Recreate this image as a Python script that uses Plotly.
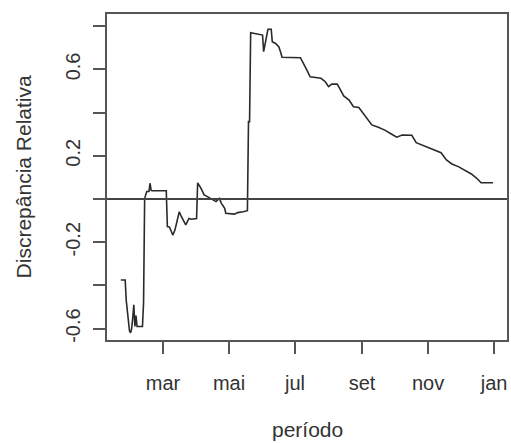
import plotly.graph_objects as go

# Data (dates in 2020, relative discrepancy)
datas = [
    "2020-01-22", "2020-01-26", "2020-01-27", "2020-01-28", "2020-01-29", "2020-01-30",
    "2020-01-31", "2020-02-01", "2020-02-02", "2020-02-03", "2020-02-04", "2020-02-05",
    "2020-02-06", "2020-02-11", "2020-02-12", "2020-02-13", "2020-02-14", "2020-02-15",
    "2020-02-17", "2020-02-18", "2020-02-19", "2020-02-20", "2020-03-04", "2020-03-05",
    "2020-03-07", "2020-03-10", "2020-03-12", "2020-03-14", "2020-03-16", "2020-03-18",
    "2020-03-20", "2020-03-22", "2020-03-25", "2020-03-27", "2020-04-01", "2020-04-02",
    "2020-04-05", "2020-04-08", "2020-04-11", "2020-04-16", "2020-04-19", "2020-04-22",
    "2020-04-24", "2020-04-27", "2020-04-28", "2020-05-06", "2020-05-09", "2020-05-14",
    "2020-05-18", "2020-05-19", "2020-05-20", "2020-05-21", "2020-05-26", "2020-06-01",
    "2020-06-02", "2020-06-04", "2020-06-06", "2020-06-09", "2020-06-10", "2020-06-13",
    "2020-06-16", "2020-06-18", "2020-06-19", "2020-07-06", "2020-07-09", "2020-07-12",
    "2020-07-15", "2020-07-25", "2020-07-29", "2020-08-01", "2020-08-04", "2020-08-09",
    "2020-08-12", "2020-08-15", "2020-08-20", "2020-08-24", "2020-08-29", "2020-09-01",
    "2020-09-05", "2020-09-10", "2020-09-16", "2020-09-22", "2020-09-28", "2020-10-03",
    "2020-10-08", "2020-10-17", "2020-10-21", "2020-10-29", "2020-11-04", "2020-11-13",
    "2020-11-18", "2020-11-23", "2020-11-29", "2020-12-05", "2020-12-11", "2020-12-16",
    "2020-12-20", "2020-12-31",
]
discrepancia = [
    -0.375, -0.375, -0.47, -0.53, -0.58, -0.61,
    -0.62, -0.60, -0.55, -0.49, -0.59, -0.54,
    -0.59, -0.59, -0.48, 0.00, 0.02, 0.035,
    0.035, 0.073, 0.04, 0.038, 0.038, -0.128,
    -0.13, -0.167, -0.144, -0.097, -0.059, -0.082,
    -0.105, -0.12, -0.09, -0.094, -0.09, 0.075,
    0.05, 0.019, 0.011, -0.002, -0.012, 0.003,
    -0.02, -0.043, -0.066, -0.07, -0.063, -0.059,
    -0.054, 0.358, 0.358, 0.77, 0.764, 0.759,
    0.682, 0.744, 0.786, 0.786, 0.728, 0.72,
    0.705, 0.675, 0.656, 0.654, 0.628, 0.597,
    0.566, 0.559, 0.543, 0.52, 0.532, 0.532,
    0.505, 0.477, 0.458, 0.427, 0.424, 0.404,
    0.381, 0.343, 0.332, 0.319, 0.301, 0.286,
    0.296, 0.295, 0.261, 0.245, 0.23, 0.214,
    0.181, 0.162, 0.15, 0.134, 0.116, 0.096,
    0.075, 0.075,
]

x_tick_vals = ["2020-03-01", "2020-05-01", "2020-07-01", "2020-09-01", "2020-11-01", "2021-01-01"]
x_tick_text = ["mar", "mai", "jul", "set", "nov", "jan"]
y_tick_vals = [-0.6, -0.4, -0.2, 0.0, 0.2, 0.4, 0.6, 0.8]
y_tick_text = ["-0.6", "", "-0.2", "", "0.2", "", "0.6", ""]

FONT = "Liberation Sans, Arial, sans-serif"
INK = "#333333"
TICK_SIZE = 20
TITLE_SIZE = 21

fig = go.Figure()
fig.add_trace(go.Scatter(
    x=datas, y=discrepancia, mode="lines",
    line=dict(color="#2a2a2a", width=1.6),
    showlegend=False, hoverinfo="skip",
))

fig.add_hline(y=0, line=dict(color="#444444", width=2))

fig.update_layout(
    width=511, height=443,
    margin=dict(l=107, r=2, t=14, b=103),
    paper_bgcolor="white", plot_bgcolor="white",
    font=dict(family=FONT, size=TICK_SIZE, color=INK),
    xaxis=dict(
        type="date",
        range=["2020-01-09 05:00", "2021-01-12 23:00"],
        tickmode="array", tickvals=x_tick_vals, ticktext=x_tick_text,
        ticks="outside", ticklen=12, tickwidth=1.5, tickcolor="#555555",
        showline=True, linecolor="#555555", linewidth=2, mirror=True,
        showgrid=False, zeroline=False,
        ticklabelstandoff=12,
        tickfont=dict(family=FONT, size=TICK_SIZE, color=INK),
    ),
    yaxis=dict(
        range=[-0.6528, 0.8565],
        tickmode="array", tickvals=y_tick_vals, ticktext=y_tick_text,
        ticks="outside", ticklen=12, tickwidth=1.5, tickcolor="#555555",
        showline=True, linecolor="#555555", linewidth=2, mirror=True,
        showgrid=False, zeroline=False,
        tickangle=-90,
        ticklabelstandoff=5,
        tickfont=dict(family=FONT, size=TICK_SIZE, color=INK),
    ),
    annotations=[
        dict(text="período", xref="paper", yref="paper", x=0.5, y=-0.276,
             xanchor="center", yanchor="middle", showarrow=False,
             font=dict(family=FONT, size=TITLE_SIZE, color=INK)),
        dict(text="Discrepância Relativa", xref="paper", yref="paper", x=-0.209, y=0.5,
             xanchor="center", yanchor="middle", showarrow=False, textangle=-90,
             font=dict(family=FONT, size=TITLE_SIZE, color=INK)),
    ],
)

fig.write_html(
    "out.html",
    config={"displayModeBar": False},
    post_script="document.body.style.margin='0';document.body.style.overflow='hidden';",
)
